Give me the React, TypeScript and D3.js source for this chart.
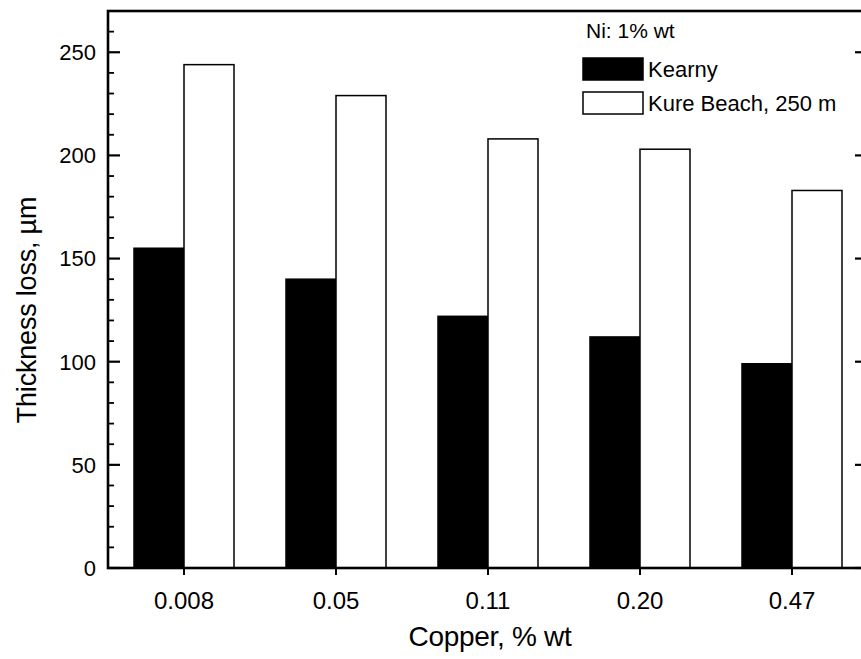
import { useMemo } from 'react'
import * as d3 from 'd3'

// Cu content categories and thickness loss (µm) per site
const COPPER = ['0.008', '0.05', '0.11', '0.20', '0.47']
const SERIES = ['Kearny', 'Kure Beach, 250 m']
const KEARNY = [155, 140, 122, 112, 99]
const KURE_BEACH = [244, 229, 208, 203, 183]
const Y_TICKS = [0, 50, 100, 150, 200, 250]

const FILLS = ['#000000', '#ffffff']
const FONT = '"Liberation Sans", Arial, Helvetica, sans-serif'

export default function App() {
  const width = 861
  const height = 659
  const left = 108
  const right = 868 // right frame sits just past the window edge
  const top = 11
  const bottom = 568

  const rows = useMemo(
    () => COPPER.map((c, i) => ({ cu: c, values: [KEARNY[i], KURE_BEACH[i]] })),
    []
  )

  const x = d3.scaleBand().domain(COPPER).range([left, right]).padding(0)
  const xs = d3.scaleBand().domain(SERIES).range([0, x.bandwidth()])
    .paddingInner(0).paddingOuter(0.52)
  const y = d3.scaleLinear().domain([0, 270]).range([bottom, top])

  const minor = d3.range(0, 271, 10).filter(v => v % 50 !== 0)

  return (
    <svg width={width} height={height}
      style={{ position: 'absolute', left: 0, top: 0, background: '#fff' }}
      fontFamily={FONT}>
      {/* bars */}
      {rows.map(r => (
        <g key={r.cu} transform={`translate(${x(r.cu)},0)`}>
          {r.values.map((v, j) => (
            <rect key={j}
              x={xs(SERIES[j])}
              y={y(v)}
              width={xs.bandwidth()}
              height={y(0) - y(v)}
              fill={FILLS[j]}
              stroke="#000"
              strokeWidth={1.5} />
          ))}
        </g>
      ))}

      {/* frame */}
      <rect x={left} y={top} width={right - left} height={bottom - top}
        fill="none" stroke="#000" strokeWidth={2.6} />

      {/* left/right ticks, pointing inward */}
      {Y_TICKS.map(t => (
        <g key={'M' + t}>
          <line x1={left} x2={left + 12} y1={y(t)} y2={y(t)} stroke="#000" strokeWidth={2.2} />
          <line x1={right} x2={right - 13} y1={y(t)} y2={y(t)} stroke="#000" strokeWidth={2.2} />
          <text x={96} y={y(t)} dy="0.36em" textAnchor="end" fontSize={22}>{t}</text>
        </g>
      ))}
      {minor.map(t => (
        <g key={'m' + t}>
          <line x1={left} x2={left + 6} y1={y(t)} y2={y(t)} stroke="#000" strokeWidth={1.8} />
          <line x1={right} x2={right - 7} y1={y(t)} y2={y(t)} stroke="#000" strokeWidth={1.8} />
        </g>
      ))}

      {/* x ticks */}
      {COPPER.map(c => {
        const cx = (x(c) ?? 0) + x.bandwidth() / 2
        return (
          <g key={c}>
            <line x1={cx} x2={cx} y1={bottom} y2={bottom + 7} stroke="#000" strokeWidth={2} />
            <text x={cx} y={609} textAnchor="middle" fontSize={24}>{c}</text>
          </g>
        )
      })}

      {/* axis titles */}
      <text x={490} y={646} textAnchor="middle" fontSize={28} letterSpacing={-0.3}>Copper, % wt</text>
      <text transform="translate(36,310) rotate(-90)" textAnchor="middle" fontSize={27} letterSpacing={-0.2}>
        Thickness loss, µm
      </text>

      {/* legend */}
      <text x={586} y={38} fontSize={21}>Ni: 1% wt</text>
      {SERIES.map((s, i) => (
        <g key={s} transform={`translate(583,${58 + i * 34})`}>
          <rect x={0} y={0} width={60} height={22} fill={FILLS[i]} stroke="#000" strokeWidth={1.5} />
          <text x={65} y={19} fontSize={22}>{s}</text>
        </g>
      ))}
    </svg>
  )
}
